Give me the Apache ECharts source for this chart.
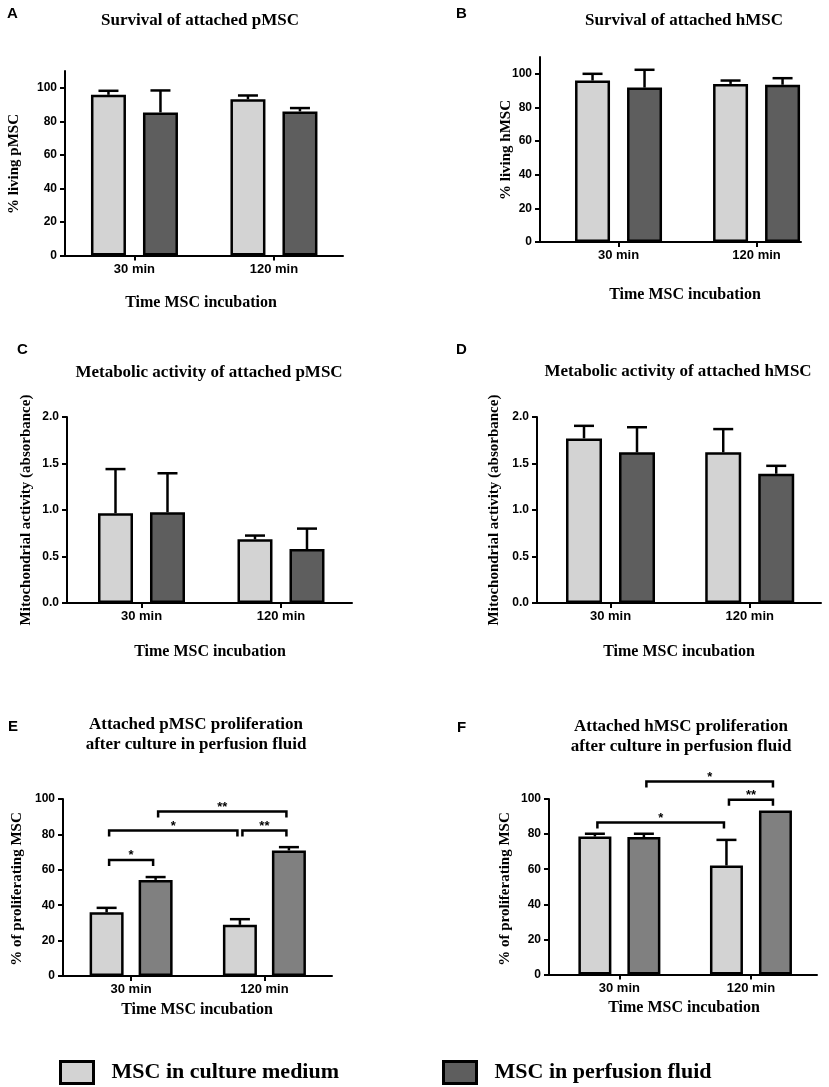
<!DOCTYPE html>
<html>
<head>
<meta charset="utf-8">
<script src="https://cdn.jsdelivr.net/npm/echarts@6/dist/echarts.min.js"></script>
<style>
  html, body { margin: 0; padding: 0; background: #fff; }
  #main { width: 829px; height: 1087px; }
</style>
</head>
<body>
<div id="main"></div>
<script>
  // 横轴分组与刻度
  const times = ['30 min', '120 min'];
  const pctTicks = [0, 20, 40, 60, 80, 100];
  const absTicks = [0, 0.5, 1, 1.5, 2];

  // A 存活率 pMSC (均值, 误差)
  const livPMedium = [95.8, 93.2];
  const livPMediumSD = [2.4, 2.2];
  const livPPerf = [85.3, 85.9];
  const livPPerfSD = [13.1, 2.0];

  // B 存活率 hMSC
  const livHMedium = [96.0, 94.0];
  const livHMediumSD = [4.0, 2.0];
  const livHPerf = [91.8, 93.5];
  const livHPerfSD = [10.6, 3.9];

  // C 代谢活性 pMSC
  const metPMedium = [0.965, 0.685];
  const metPMediumSD = [0.475, 0.04];
  const metPPerf = [0.975, 0.58];
  const metPPerfSD = [0.42, 0.22];

  // D 代谢活性 hMSC
  const metHMedium = [1.77, 1.62];
  const metHMediumSD = [0.135, 0.25];
  const metHPerf = [1.62, 1.39];
  const metHPerfSD = [0.27, 0.085];

  // E 增殖 pMSC
  const proPMedium = [36.0, 28.9];
  const proPMediumSD = [2.5, 3.2];
  const proPPerf = [54.3, 70.9];
  const proPPerfSD = [1.6, 1.9];

  // F 增殖 hMSC
  const proHMedium = [78.6, 62.1];
  const proHMediumSD = [1.6, 14.6];
  const proHPerf = [78.3, 93.5];
  const proHPerfSD = [1.9, 0];

  // 显著性标记: [起始组, 起始柱(-1浅/1深), 结束组, 结束柱, 高度, 星号数]
  const sigE = [[1, -1, 1, 1, 65.6, 1], [1, -1, 2, -1, 82.2, 1], [2, -1, 2, 1, 82.2, 2], [1, 1, 2, 1, 93, 2]];
  const sigF = [[1, -1, 2, -1, 86.6, 1], [2, -1, 2, 1, 99.6, 2], [1, 1, 2, 1, 110, 1]];

  const serif = '"Liberation Serif", "Times New Roman", serif';
  const sans = '"Liberation Sans", Arial, sans-serif';

  // 每个子图的布局
  const panels = [
    {tag: 'A', title: ['Survival of attached pMSC'], yName: '% living pMSC',
     med: livPMedium, medSD: livPMediumSD, perf: livPPerf, perfSD: livPPerfSD,
     dark: '#5e5e5e', ymax: 110, ticks: pctTicks, dec: 0, sig: null,
     left: 65, right: 343, top: 71, zero: 255.5, xmin: 0.502, xmax: 2.495, barW: 35, gap: 17,
     tagPos: [7, 15], titlePos: [200, 21], xNamePos: [201, 303], yNamePos: [14, 164]},
    {tag: 'B', title: ['Survival of attached hMSC'], yName: '% living hMSC',
     med: livHMedium, medSD: livHMediumSD, perf: livHPerf, perfSD: livHPerfSD,
     dark: '#5e5e5e', ymax: 110, ticks: pctTicks, dec: 0, sig: null,
     left: 540, right: 801, top: 57, zero: 242, xmin: 0.431, xmax: 2.322, barW: 35, gap: 17,
     tagPos: [456, 15], titlePos: [684, 21], xNamePos: [685, 295], yNamePos: [506, 150]},
    {tag: 'C', title: ['Metabolic activity of attached pMSC'], yName: 'Mitochondrial activity (absorbance)',
     med: metPMedium, medSD: metPMediumSD, perf: metPPerf, perfSD: metPPerfSD,
     dark: '#5e5e5e', ymax: 2, ticks: absTicks, dec: 1, sig: null,
     left: 67, right: 352, top: 417, zero: 603, xmin: 0.466, xmax: 2.509, barW: 35, gap: 17,
     tagPos: [17, 351], titlePos: [209, 373], xNamePos: [210, 652], yNamePos: [26, 510]},
    {tag: 'D', title: ['Metabolic activity of attached hMSC'], yName: 'Mitochondrial activity (absorbance)',
     med: metHMedium, medSD: metHMediumSD, perf: metHPerf, perfSD: metHPerfSD,
     dark: '#5e5e5e', ymax: 2, ticks: absTicks, dec: 1, sig: null,
     left: 537, right: 821, top: 417, zero: 603, xmin: 0.472, xmax: 2.512, barW: 36, gap: 17,
     tagPos: [456, 351], titlePos: [678, 372], xNamePos: [679, 652], yNamePos: [494, 510]},
    {tag: 'E', title: ['Attached pMSC proliferation', 'after culture in perfusion fluid'], yName: '% of proliferating MSC',
     med: proPMedium, medSD: proPMediumSD, perf: proPPerf, perfSD: proPPerfSD,
     dark: '#808080', ymax: 100, ticks: pctTicks, dec: 0, sig: sigE,
     left: 63, right: 332, top: 799, zero: 976, xmin: 0.489, xmax: 2.507, barW: 34, gap: 15,
     tagPos: [8, 728], titlePos: [196, 725], xNamePos: [197, 1010], yNamePos: [17, 889]},
    {tag: 'F', title: ['Attached hMSC proliferation', 'after culture in perfusion fluid'], yName: '% of proliferating MSC',
     med: proHMedium, medSD: proHMediumSD, perf: proHPerf, perfSD: proHPerfSD,
     dark: '#808080', ymax: 100, ticks: pctTicks, dec: 0, sig: sigF,
     left: 549, right: 817, top: 799, zero: 974.5, xmin: 0.465, xmax: 2.502, barW: 33, gap: 16,
     tagPos: [457, 729], titlePos: [681, 727], xNamePos: [684, 1008], yNamePos: [505, 889]}
  ];

  const grids = [], xAxes = [], yAxes = [], series = [], graphics = [];

  panels.forEach((p, i) => {
    const off = (p.barW + p.gap) / 2;

    grids.push({left: p.left, top: p.top, width: p.right - p.left, height: p.zero - p.top,
                containLabel: false, outerBoundsMode: 'none'});

    xAxes.push({
      gridIndex: i, type: 'value', min: p.xmin, max: p.xmax,
      axisLine: {onZero: false, lineStyle: {color: '#000', width: 2}},
      axisTick: {show: true, customValues: [1, 2], length: 5, lineStyle: {color: '#000', width: 2}},
      axisLabel: {customValues: [1, 2], margin: 7, color: '#000', fontFamily: sans, fontWeight: 'bold', fontSize: 13,
                  formatter: (v) => times[Math.round(v) - 1] || ''},
      splitLine: {show: false}
    });

    yAxes.push({
      gridIndex: i, type: 'value', min: 0, max: p.ymax,
      axisLine: {show: true, lineStyle: {color: '#000', width: 2}},
      axisTick: {show: true, customValues: p.ticks, length: 5, lineStyle: {color: '#000', width: 2}},
      axisLabel: {customValues: p.ticks, margin: 8, color: '#000', fontFamily: sans, fontWeight: 'bold', fontSize: 12,
                  formatter: (v) => Number(v).toFixed(p.dec)},
      splitLine: {show: false}
    });

    // 两组柱子
    series.push({
      type: 'bar', name: 'MSC in culture medium', xAxisIndex: i, yAxisIndex: i,
      barWidth: p.barW, barGap: (p.gap / p.barW * 100) + '%',
      data: p.med.map((v, k) => [k + 1, v]),
      itemStyle: {color: '#d3d3d3', borderColor: '#000', borderWidth: 2.5}
    });
    series.push({
      type: 'bar', name: 'MSC in perfusion fluid', xAxisIndex: i, yAxisIndex: i,
      barWidth: p.barW, barGap: (p.gap / p.barW * 100) + '%',
      data: p.perf.map((v, k) => [k + 1, v]),
      itemStyle: {color: p.dark, borderColor: '#000', borderWidth: 2.5}
    });

    // 误差线(只画向上)
    const errData = p.med.map((v, k) => [k + 1, v, p.medSD[k], -1])
      .concat(p.perf.map((v, k) => [k + 1, v, p.perfSD[k], 1]));
    series.push({
      type: 'custom', xAxisIndex: i, yAxisIndex: i, z: 3, silent: true, clip: false,
      encode: {x: 0, y: 1},
      data: errData,
      renderItem: (params, api) => {
        const sd = api.value(2);
        if (!sd) return null;
        const base = api.coord([api.value(0), api.value(1)]);
        const tip = api.coord([api.value(0), api.value(1) + sd]);
        const cx = base[0] + api.value(3) * off;
        const st = {stroke: '#000', lineWidth: 2.5};
        return {type: 'group', children: [
          {type: 'line', shape: {x1: cx, y1: base[1], x2: cx, y2: tip[1]}, style: st},
          {type: 'line', shape: {x1: cx - 10, y1: tip[1], x2: cx + 10, y2: tip[1]}, style: st}
        ]};
      }
    });

    // 显著性括号
    if (p.sig) {
      series.push({
        type: 'custom', xAxisIndex: i, yAxisIndex: i, z: 4, silent: true, clip: false,
        encode: {x: [0, 2], y: 4},
        data: p.sig,
        renderItem: (params, api) => {
          const a = api.coord([api.value(0), api.value(4)]);
          const b = api.coord([api.value(2), api.value(4)]);
          const x1 = a[0] + api.value(1) * off + 2.5;
          const x2 = b[0] + api.value(3) * off - 2.5;
          const y = a[1];
          return {type: 'group', children: [
            {type: 'polyline', shape: {points: [[x1, y + 6], [x1, y], [x2, y], [x2, y + 6]]},
             style: {stroke: '#000', lineWidth: 2.5, fill: null}},
            {type: 'text', style: {text: '*'.repeat(api.value(5)), x: (x1 + x2) / 2, y: y - 4,
             textAlign: 'center', textVerticalAlign: 'middle', font: 'bold 13px ' + sans, fill: '#000'}}
          ]};
        }
      });
    }

    // 文字: 字母, 标题, 坐标轴名
    graphics.push({type: 'text', left: p.tagPos[0], top: p.tagPos[1] - 9,
      style: {text: p.tag, font: 'bold 15px ' + sans, fill: '#000'}});
    p.title.forEach((t, j) => {
      graphics.push({type: 'text', x: p.titlePos[0], y: p.titlePos[1] + j * 20,
        style: {text: t, x: 0, y: 0, textAlign: 'center', textVerticalAlign: 'middle', font: 'bold 17px ' + serif, fill: '#000'}});
    });
    graphics.push({type: 'text', x: p.xNamePos[0], y: p.xNamePos[1],
      style: {text: 'Time MSC incubation', x: 0, y: 0, textAlign: 'center', textVerticalAlign: 'middle', font: 'bold 16px ' + serif, fill: '#000'}});
    graphics.push({type: 'text', x: p.yNamePos[0], y: p.yNamePos[1], rotation: Math.PI / 2,
      style: {text: p.yName, x: 0, y: 0, textAlign: 'center', textVerticalAlign: 'middle', font: 'bold 15px ' + serif, fill: '#000'}});
  });

  const legendBase = {
    top: 1060, padding: 0, icon: 'rect', itemWidth: 33, itemHeight: 22, selectedMode: false,
    itemStyle: {borderColor: '#000', borderWidth: 3},
    textStyle: {fontFamily: serif, fontWeight: 'bold', fontSize: 22, color: '#000', padding: [0, 0, 0, 13]}
  };

  const option = {
    animation: false,
    backgroundColor: '#fff',
    grid: grids,
    xAxis: xAxes,
    yAxis: yAxes,
    legend: [
      Object.assign({}, legendBase, {left: 59, data: ['MSC in culture medium']}),
      Object.assign({}, legendBase, {left: 442, data: ['MSC in perfusion fluid']})
    ],
    graphic: {elements: graphics},
    series: series
  };

  const myChart = echarts.init(document.getElementById('main'), null, {renderer: 'canvas'});
  myChart.setOption(option);
  window.addEventListener('resize', myChart.resize);
</script>
</body>
</html>
